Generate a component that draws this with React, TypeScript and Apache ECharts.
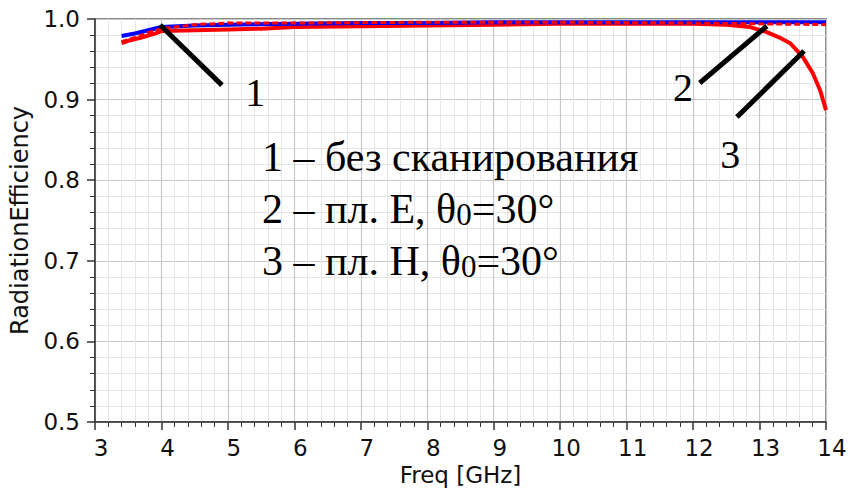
import React, { useEffect, useRef } from "react";
import * as echarts from "echarts";

// Curve 1 – без сканирования (blue)
const freq1 = [3.4, 3.6, 3.8, 4.0, 4.5, 5, 6, 7, 8, 9, 10, 11, 12, 13, 14];
const eff1 = [0.979, 0.982, 0.986, 0.99, 0.992, 0.993, 0.994, 0.995, 0.995, 0.996, 0.996, 0.996, 0.996, 0.996, 0.996];

// Curve 2 – пл. E (red dashed)
const freq2 = [3.4, 3.6, 3.8, 4.0, 4.5, 5, 6, 8, 10, 12, 13, 14];
const eff2 = [0.972, 0.977, 0.983, 0.988, 0.993, 0.995, 0.995, 0.996, 0.996, 0.995, 0.994, 0.993];

// Curve 3 – пл. H (red solid)
const freq3 = [3.4, 3.5, 3.7, 3.9, 4.0, 4.5, 5, 5.5, 6, 7, 8, 9, 10, 11, 12, 12.5, 12.86, 13.1, 13.3, 13.46, 13.65, 13.8, 13.91, 14];
const eff3 = [0.97, 0.973, 0.977, 0.982, 0.985, 0.986, 0.987, 0.988, 0.99, 0.991, 0.992, 0.993, 0.994, 0.994, 0.994, 0.993, 0.99, 0.984, 0.977, 0.97, 0.953, 0.933, 0.912, 0.887];

// Annotation pointer lines (data coords) and labels
const pointerLines: [number, number, number, number][] = [
  [3.98, 0.9926, 4.91, 0.918],
  [13.11, 0.9913, 12.1, 0.9206],
  [13.67, 0.9603, 12.66, 0.8784],
];
const pointerLabels: [number, number, string][] = [
  [5.41, 0.909, "1"],
  [11.85, 0.915, "2"],
  [12.56, 0.832, "3"],
];

const xTicks = { min: 3, max: 14, interval: 1 };
const yTicks = { min: 0.5, max: 1.0, interval: 0.1 };

const legendLines = [
  "{a|1 – без сканирования}",
  "{a|2 – пл. E, θ}{s|0}{a|=30°}",
  "{a|3 – пл. H, θ}{s|0}{a|=30°}",
];

const zip = (xs: number[], ys: number[]) => xs.map((x, i) => [x, ys[i]]);

export default function App() {
  const ref = useRef<HTMLDivElement>(null);
  useEffect(() => {
    if (!ref.current) return;
    const chart = echarts.init(ref.current, undefined, { renderer: "svg" });
    const serif = "Liberation Serif, Times New Roman, serif";
    const sans = "DejaVu Sans, Arial, sans-serif";
    chart.setOption({
      animation: false,
      backgroundColor: "#fff",
      grid: {
        left: 95,
        right: 22,
        top: 19,
        bottom: 70,
        show: true,
        borderColor: "#8a8a8a",
        borderWidth: 2,
        containLabel: false,
        outerBoundsMode: "none",
      },
      xAxis: {
        type: "value",
        ...xTicks,
        name: "Freq [GHz]",
        nameLocation: "middle",
        nameGap: 37,
        nameTextStyle: { fontFamily: sans, fontSize: 23, color: "#111" },
        axisLine: { show: true, onZero: false, lineStyle: { color: "#333", width: 1.5 } },
        axisTick: { show: true, inside: false, length: 8, lineStyle: { color: "#333", width: 1.5 } },
        minorTick: { show: true, splitNumber: 5, length: 5, lineStyle: { color: "#333", width: 1 } },
        splitLine: { show: true, lineStyle: { color: "#c8c8c8", width: 1.2 } },
        minorSplitLine: { show: true, lineStyle: { color: "#e6e6e6", width: 1 } },
        axisLabel: {
          fontFamily: sans,
          fontSize: 23,
          color: "#111",
          margin: 14,
          padding: [0, 0, 0, 12],
        },
      },
      yAxis: {
        type: "value",
        ...yTicks,
        name: "RadiationEfficiency",
        nameLocation: "middle",
        nameGap: 63,
        nameTextStyle: { fontFamily: sans, fontSize: 24, color: "#111" },
        axisLine: { show: true, lineStyle: { color: "#333", width: 1.5 } },
        axisTick: { show: true, inside: false, length: 8, lineStyle: { color: "#333", width: 1.5 } },
        minorTick: { show: true, splitNumber: 5, length: 5, lineStyle: { color: "#333", width: 1 } },
        splitLine: { show: true, lineStyle: { color: "#c8c8c8", width: 1.2 } },
        minorSplitLine: { show: true, lineStyle: { color: "#e6e6e6", width: 1 } },
        axisLabel: {
          fontFamily: sans,
          fontSize: 23,
          color: "#111",
          margin: 15,
          formatter: (v: number) => v.toFixed(1),
        },
      },
      series: [
        {
          name: "3",
          type: "line",
          data: zip(freq3, eff3),
          symbol: "none",
          lineStyle: { color: "#ff0000", width: 4 },
          z: 2,
          markLine: {
            silent: true,
            symbol: ["none", "none"],
            lineStyle: { color: "#000", width: 5, type: "solid" },
            label: { show: false },
            data: pointerLines.map(([x1, y1, x2, y2]) => [
              { coord: [x1, y1] },
              { coord: [x2, y2] },
            ]),
          },
          markPoint: {
            silent: true,
            symbol: "circle",
            symbolSize: 0,
            label: {
              show: true,
              position: "inside",
              fontFamily: serif,
              fontSize: 40,
              color: "#000",
              formatter: (p: any) => p.name,
            },
            data: pointerLabels.map(([x, y, t]) => ({ coord: [x, y], name: t })),
          },
        },
        {
          name: "1",
          type: "line",
          data: zip(freq1, eff1),
          symbol: "none",
          lineStyle: { color: "#0000ff", width: 4 },
          z: 3,
        },
        {
          name: "2",
          type: "line",
          data: zip(freq2, eff2),
          symbol: "none",
          lineStyle: { color: "#ff0000", width: 3, type: [6, 3] },
          z: 4,
        },
      ],
      graphic: [
        {
          type: "text",
          left: 262,
          top: 126,
          z: 10,
          style: {
            text: legendLines.join("\n"),
            lineHeight: 52,
            rich: {
              a: { fontFamily: serif, fontSize: 42, color: "#000", lineHeight: 52, verticalAlign: "bottom" },
              s: { fontFamily: serif, fontSize: 31, color: "#000", lineHeight: 52, verticalAlign: "bottom" },
            },
          },
        },
      ],
    });
    return () => chart.dispose();
  }, []);
  return (
    <div
      ref={ref}
      style={{ position: "absolute", left: 0, top: 0, width: 848, height: 492 }}
    />
  );
}
